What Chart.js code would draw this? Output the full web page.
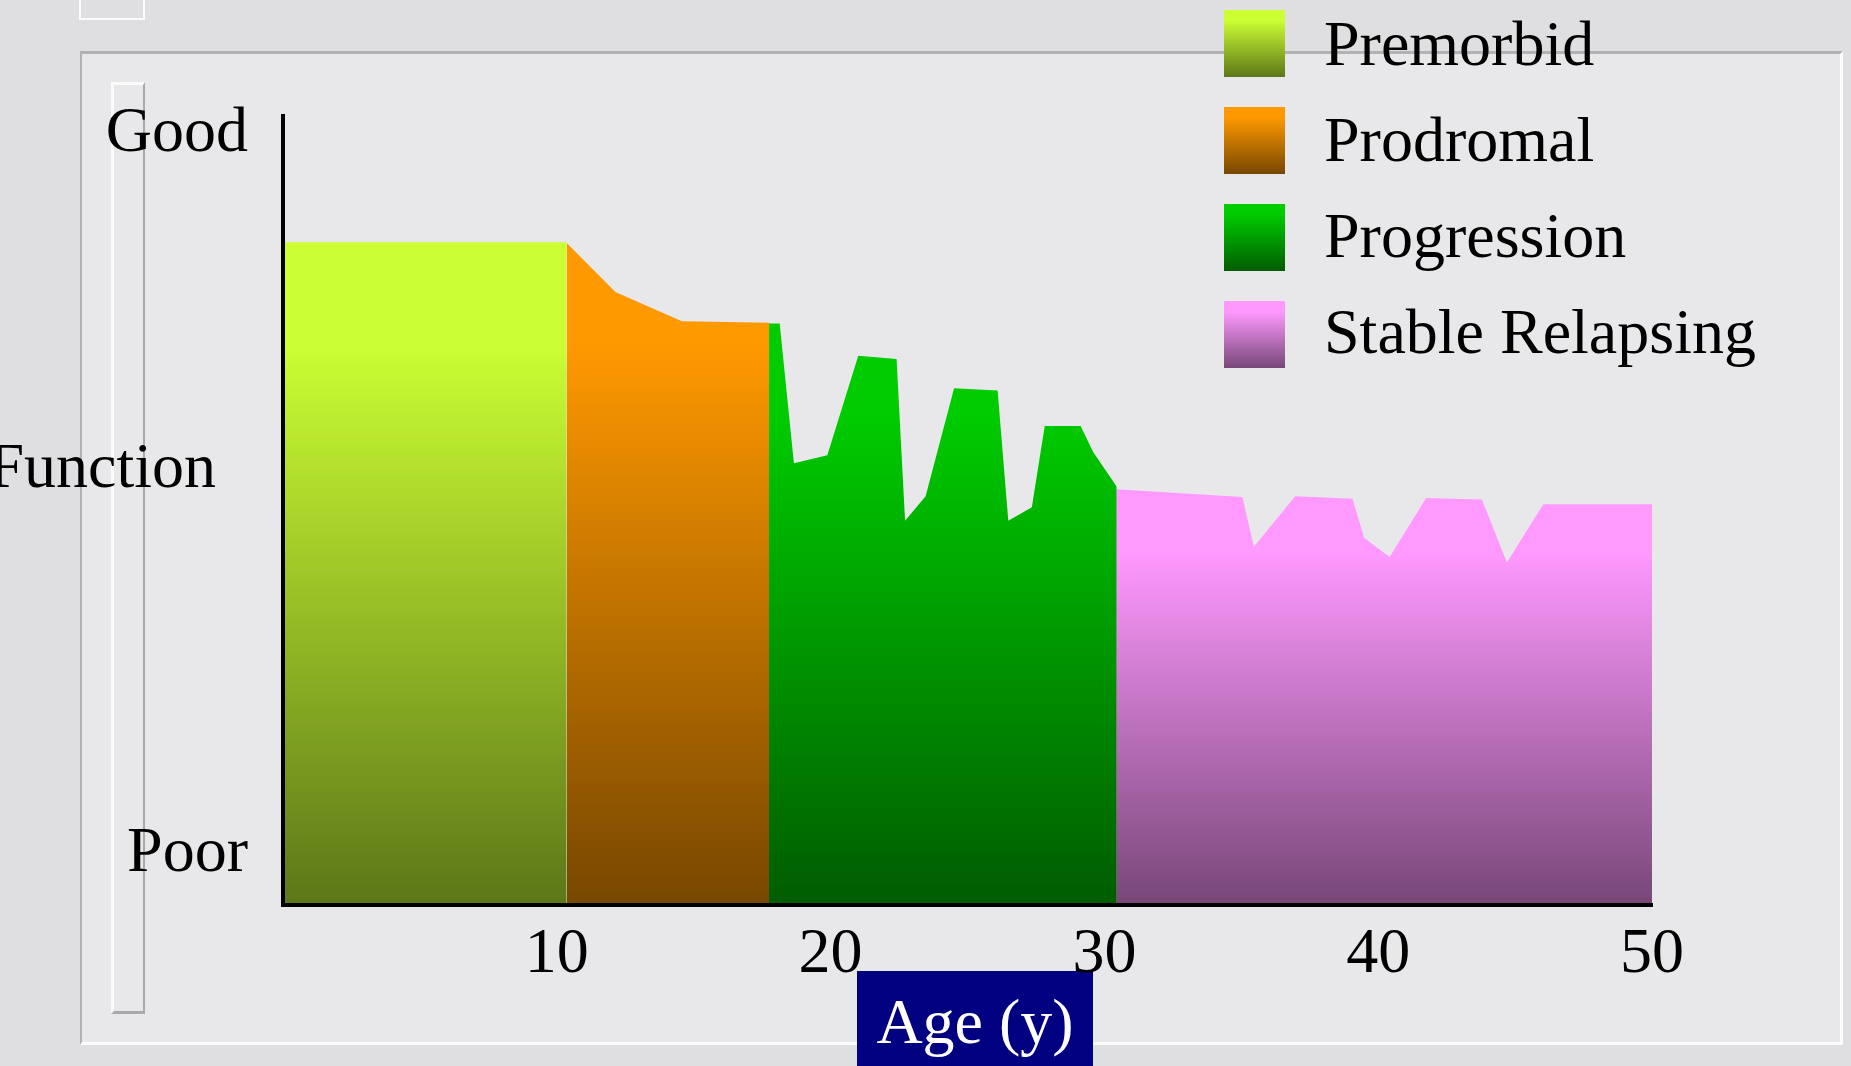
<!DOCTYPE html>
<html lang="en">
<head>
    <meta charset="UTF-8">
    <title>Function by age</title>
    <script src="https://cdn.jsdelivr.net/npm/chart.js"></script>
    <style>
        * {
            margin: 0;
            padding: 0;
            box-sizing: border-box;
        }
        body {
            width: 1851px;
            height: 1066px;
            overflow: hidden;
            position: relative;
            background-color: #dfdfe1;
        }
        .frame {
            position: absolute;
            left: 80px;
            top: 51px;
            width: 1763px;
            height: 994px;
            background-color: #e8e8ea;
            border-top: 3px solid #b2b2b4;
            border-left: 2px solid #b2b2b4;
            border-right: 3px solid #fbfbfb;
            border-bottom: 3px solid #fbfbfb;
        }
        .tab {
            position: absolute;
            left: 79px;
            top: -2px;
            width: 66px;
            height: 22px;
            border: 2px solid #fbfbfb;
            border-top: none;
        }
        .bar {
            position: absolute;
            left: 111px;
            top: 82px;
            width: 34px;
            height: 932px;
            border-left: 3px solid #fbfbfb;
            border-top: 3px solid #fbfbfb;
            border-right: 2px solid #a9a9ab;
            border-bottom: 3px solid #a9a9ab;
        }
        .chart-container {
            position: absolute;
            left: 0;
            top: 0;
            width: 1851px;
            height: 1066px;
        }
    </style>
</head>
<body>

    <div class="frame"></div>
    <div class="tab"></div>
    <div class="bar"></div>
    <div class="chart-container">
        <canvas id="function-chart"></canvas>
    </div>

    <script>
        const seriesNames = ["Premorbid", "Prodromal", "Progression", "Stable Relapsing"];

        const premorbidAge = [0, 10.36];
        const premorbidFunction = [84, 84];

        const prodromalAge = [10.36, 12.14, 14.57, 17.76];
        const prodromalFunction = [83.9, 77.7, 74.0, 73.8];

        const progressionAge = [17.75, 18.14, 18.66, 19.88, 21.01, 22.41, 22.72, 23.47,
                                24.51, 26.10, 26.49, 27.35, 27.82, 29.13, 29.59, 30.45];
        const progressionFunction = [73.7, 73.7, 56.0, 57.0, 69.6, 69.2, 48.7, 51.8,
                                     65.5, 65.2, 48.7, 50.4, 60.7, 60.7, 57.4, 53.0];

        const stableAge = [30.43, 35.04, 35.46, 36.97, 39.06, 39.49, 40.42, 41.75, 43.79, 44.70, 46.03, 50.0];
        const stableFunction = [52.7, 51.7, 45.4, 51.8, 51.5, 46.5, 44.1, 51.6, 51.4, 43.4, 50.8, 50.8];

        const xTicks = [10, 20, 30, 40, 50];
        const yTickValues = [6.45, 55.05, 97.7];
        const yTickLabels = ["Poor", "Function\u2002", "Good"];
        const xTitle = "Age (y)";

        const topColors = ["#ccff33", "#ff9900", "#00cc00", "#ff99ff"];
        const bottomColors = ["#5c7718", "#774700", "#005c00", "#774777"];

        const serif = '"Liberation Serif", "Times New Roman", serif';

        function shade(ctx, top, bottom, c0, c1) {
            const g = ctx.createLinearGradient(0, top, 0, bottom);
            g.addColorStop(0, c0);
            g.addColorStop(0.15, c0);
            g.addColorStop(1, c1);
            return g;
        }

        const series = [
            { age: premorbidAge, fn: premorbidFunction },
            { age: prodromalAge, fn: prodromalFunction },
            { age: progressionAge, fn: progressionFunction },
            { age: stableAge, fn: stableFunction }
        ];

        const datasets = series.map((s, i) => ({
            label: seriesNames[i],
            data: s.age.map((a, j) => ({ x: a, y: s.fn[j] })),
            fill: 'origin',
            borderWidth: 0,
            borderColor: 'rgba(0,0,0,0)',
            pointRadius: 0,
            tension: 0,
            backgroundColor: function(c) {
                const area = c.chart.chartArea;
                if (!area) return topColors[i];
                const top = c.chart.scales.y.getPixelForValue(Math.max(...s.fn));
                return shade(c.chart.ctx, top, area.bottom, topColors[i], bottomColors[i]);
            }
        }));

        // navy title box under the x axis, and the legend at top right
        const overlay = {
            id: 'overlay',
            beforeDraw(chart) {
                const ctx = chart.ctx;
                ctx.save();
                ctx.fillStyle = '#000080';
                ctx.fillRect(857, 971, 236, 95);
                ctx.fillStyle = '#ffffff';
                ctx.font = '64px ' + serif;
                ctx.textAlign = 'center';
                ctx.textBaseline = 'alphabetic';
                ctx.fillText(xTitle, 975, 1043);
                ctx.restore();
            },
            afterDraw(chart) {
                const ctx = chart.ctx;
                ctx.save();
                ctx.font = '64px ' + serif;
                ctx.textAlign = 'left';
                ctx.textBaseline = 'alphabetic';
                seriesNames.forEach((name, i) => {
                    const top = 10 + i * 97;
                    ctx.fillStyle = shade(ctx, top, top + 67, topColors[i], bottomColors[i]);
                    ctx.fillRect(1224, top, 61, 67);
                    ctx.fillStyle = '#000000';
                    ctx.fillText(name, 1324, 65 + i * 96);
                });
                ctx.restore();
            }
        };

        const ctx = document.getElementById('function-chart').getContext('2d');
        new Chart(ctx, {
            type: 'line',
            data: { datasets: datasets },
            plugins: [overlay],
            options: {
                responsive: true,
                maintainAspectRatio: false,
                animation: false,
                layout: { padding: { top: 116, right: 199, left: 0, bottom: 0 } },
                plugins: {
                    legend: { display: false },
                    tooltip: { enabled: false }
                },
                scales: {
                    x: {
                        type: 'linear',
                        min: 0,
                        max: 50,
                        afterBuildTicks: s => { s.ticks = xTicks.map(v => ({ value: v })); },
                        afterFit: s => { s.height = 161; },
                        grid: { display: false, drawTicks: false },
                        border: { display: true, color: '#000', width: 4, z: 1 },
                        ticks: {
                            color: '#000',
                            font: { family: serif, size: 64 },
                            padding: 12,
                            maxRotation: 0,
                            autoSkip: false
                        }
                    },
                    y: {
                        min: 0,
                        max: 100,
                        afterBuildTicks: s => { s.ticks = yTickValues.map(v => ({ value: v })); },
                        afterFit: s => { s.width = 283; },
                        grid: { display: false, drawTicks: false },
                        border: { display: true, color: '#000', width: 4, z: 1 },
                        ticks: {
                            color: '#000',
                            font: { family: serif, size: 64 },
                            padding: 35,
                            autoSkip: false,
                            callback: (v, i) => yTickLabels[i]
                        }
                    }
                }
            }
        });
    </script>

</body>
</html>
